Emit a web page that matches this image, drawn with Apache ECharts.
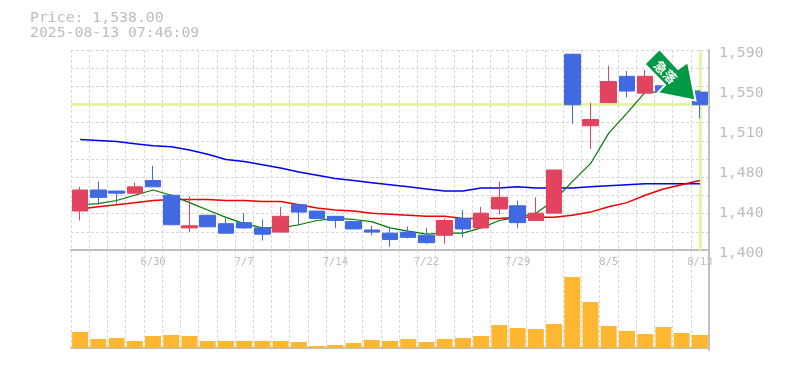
<!DOCTYPE html>
<html><head><meta charset="utf-8">
<style>html,body{margin:0;padding:0;background:#fff}#c{width:785px;height:370px}</style>
<script src="https://cdn.jsdelivr.net/npm/echarts@6/dist/echarts.min.js"></script>
</head><body><div id="c"></div>
<script>
const categories = ['6/24','6/25','6/26','6/27','6/30','7/1','7/2','7/3','7/4','7/7','7/8','7/9','7/10','7/11','7/14','7/15','7/16','7/17','7/18','7/22','7/23','7/24','7/25','7/28','7/29','7/30','7/31','8/1','8/4','8/5','8/6','8/7','8/8','8/12','8/13'];
const opens  = [1437,1457,1456,1454,1466,1452,1421,1433,1425,1426,1421,1417,1443,1437,1432,1427,1419,1416,1417,1414,1414,1430,1421,1439,1442,1428,1435,1586,1518,1540,1565,1549,1556,1552,1550];
const closes = [1457,1450,1454,1460,1460,1424,1423,1422,1416,1421,1415,1432,1436,1430,1428,1420,1417,1410,1412,1407,1428,1420,1435,1450,1426,1435,1476,1538,1524,1560,1551,1565,1551,1547,1538];
const lows   = [1428,1443,1444,1454,1460,1424,1417,1422,1416,1420,1409,1417,1423,1430,1421,1420,1414,1403,1411,1406,1406,1412,1421,1434,1421,1428,1435,1520,1496,1540,1545,1549,1551,1546,1525];
const highs  = [1460,1465,1456,1464,1480,1453,1451,1433,1430,1435,1429,1441,1443,1437,1432,1427,1423,1422,1422,1421,1430,1438,1441,1465,1447,1450,1476,1586,1540,1575,1570,1571,1558,1555,1552];
const ma5  = [1443,1444,1447,1452,1457,1452,1445,1438,1431,1425,1421,1421,1424,1428,1430,1429,1427,1421,1418,1415,1416,1416,1421,1428,1431,1435,1447,1465,1482,1511,1530,1550,1550,1551,1551];
const ma25 = [1439,1441,1443,1445,1447,1448,1448,1448,1447,1447,1446,1446,1443,1440,1438,1437,1435,1434,1433,1432,1432,1430,1430,1430,1431,1431,1431,1433,1436,1441,1445,1452,1458,1462,1466];
const ma75 = [1505,1504,1503,1501,1499,1498,1495,1491,1486,1484,1481,1478,1474,1471,1468,1466,1464,1462,1460,1458,1456,1456,1459,1459,1460,1459,1459,1459,1460,1461,1462,1463,1463,1463,1463];
const volumes = [16,9,10,7,12,13,12,7,7,7,7,7,6,2,3,5,8,7,9,6,9,10,12,23,20,19,24,71,46,22,17,14,21,15,13];
const yTicks = [1400,1438,1476,1514,1552,1590];
const lastPrice = 1538;
const lastDate = '8/13';
const titleText = 'Price: 1,538.00\n2025-08-13 07:46:09';
const stampText = '急落';

const GREY='#bdbdbd', GRID='#d8d8d8', MONO='"DejaVu Sans Mono",monospace';
const c = echarts.init(document.getElementById('c'),null,{renderer:'canvas'});
const L=71,W=638;
const arrow=[[659.5,49],[644.5,64],[665,85],[657.5,93],[695.5,100.5],[688,62],[678,69]];
c.setOption({
  animation:false,backgroundColor:'#fff',
  title:{text:titleText,left:30,top:11,padding:0,textStyle:{fontFamily:MONO,fontSize:14.8,fontWeight:'normal',color:GREY,lineHeight:15}},
  grid:[{left:L,top:50,width:W,height:200,show:false},{left:L,top:250,width:W,height:100,show:false}],
  xAxis:[
   {type:'category',gridIndex:0,data:categories,boundaryGap:true,
    axisLine:{lineStyle:{color:'#c0c0c0',width:2}},axisTick:{show:false},
    axisLabel:{show:true,interval:(i)=>i%5===4,margin:7,fontFamily:MONO,fontSize:10.5,color:GREY,hideOverlap:false},
    splitLine:{show:true,interval:0,lineStyle:{type:[3,2],color:GRID,width:1}}},
   {type:'category',gridIndex:1,data:categories,boundaryGap:true,
    axisLine:{lineStyle:{color:'#c0c0c0',width:2}},axisTick:{show:false},axisLabel:{show:false},
    splitLine:{show:true,interval:0,lineStyle:{type:[3,2],color:GRID,width:1}}}
  ],
  yAxis:[
   {type:'value',gridIndex:0,position:'right',min:1400,max:1590,scale:true,
    axisLine:{show:true,onZero:false,lineStyle:{color:'#c0c0c0',width:2}},axisTick:{show:false},
    splitLine:{show:false},
    axisLabel:{customValues:yTicks,margin:10,fontFamily:MONO,fontSize:14.8,color:GREY,verticalAlign:'top',lineHeight:6,
      formatter:v=>(Math.round(v/10)*10).toLocaleString('en-US')}},
   {type:'value',gridIndex:0,position:'left',min:0,max:11,interval:1,
    axisLine:{show:false},axisTick:{show:false},axisLabel:{show:false},
    splitLine:{show:true,lineStyle:{type:[3,2],color:GRID,width:1}}},
   {type:'value',gridIndex:1,position:'right',min:-2,max:98,
    axisLine:{show:true,onZero:false,lineStyle:{color:'#c0c0c0',width:2}},axisTick:{show:false},axisLabel:{show:false},splitLine:{show:false}}
  ],
  series:[
   {type:'line',name:'ref',xAxisIndex:0,yAxisIndex:0,data:[],z:1,silent:true,
    markLine:{silent:true,symbol:'none',label:{show:false},animation:false,z:1,
      lineStyle:{color:'#e3f5a8',width:3,type:'solid'},
      data:[{yAxis:lastPrice},{xAxis:lastDate}]}},
   {type:'line',name:'MA75',data:ma75,xAxisIndex:0,yAxisIndex:0,showSymbol:false,z:2,lineStyle:{color:'#0000ee',width:1.5}},
   {type:'line',name:'MA25',data:ma25,xAxisIndex:0,yAxisIndex:0,showSymbol:false,z:2,lineStyle:{color:'#ee0000',width:1.5}},
   {type:'line',name:'MA5',data:ma5,xAxisIndex:0,yAxisIndex:0,showSymbol:false,z:2,lineStyle:{color:'#007a00',width:1.2}},
   {type:'candlestick',name:'Price',xAxisIndex:0,yAxisIndex:0,barWidth:16,z:3,
    data:categories.map((_,i)=>[opens[i],closes[i],lows[i],highs[i]]),
    itemStyle:{color:'#e2435f',color0:'#4169e1',borderColor:'#e2435f',borderColor0:'#4169e1',borderWidth:1}},
   {type:'bar',name:'Volume',xAxisIndex:1,yAxisIndex:2,data:volumes,barWidth:16,z:3,itemStyle:{color:'#ffb732'}}
  ],
  graphic:[
   {type:'polygon',z:100,shape:{points:arrow},style:{fill:'#009944',stroke:'#fff',lineWidth:2}},
   {type:'text',z:101,x:665.5,y:72,rotation:-Math.PI/4,style:{text:stampText,font:'bold 13px "Noto Sans CJK JP"',fill:'#fff',align:'center',verticalAlign:'middle'}}
  ]
});
</script></body></html>
